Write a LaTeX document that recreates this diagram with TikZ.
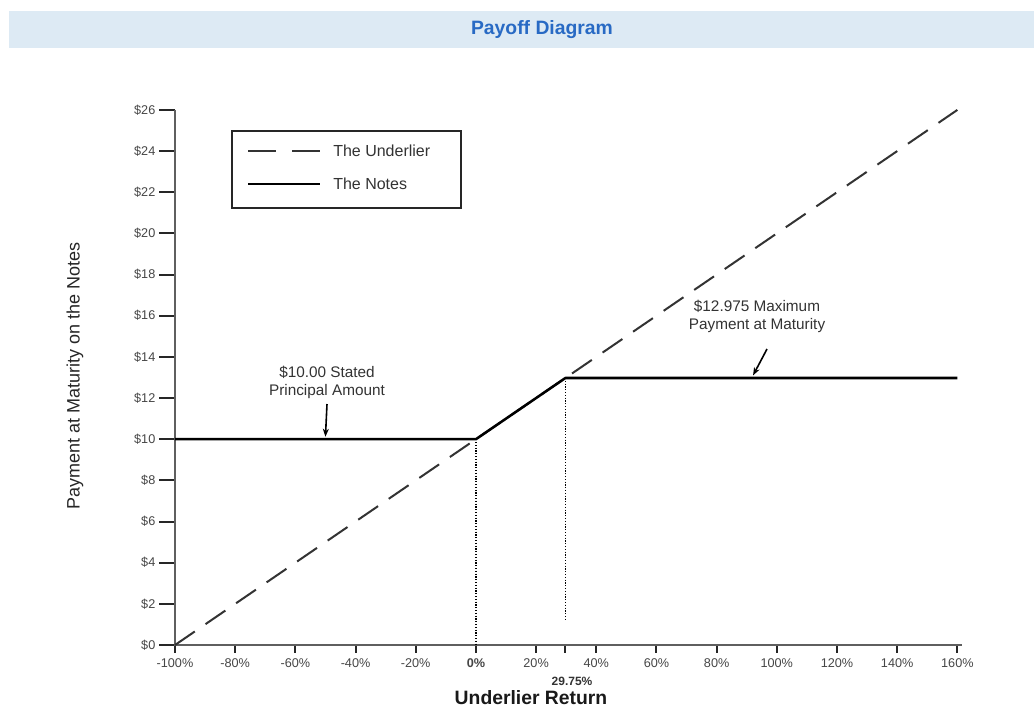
\documentclass[tikz,border=0pt]{standalone}
\usepackage{fontspec}
\setmainfont{Liberation Sans}
\usetikzlibrary{arrows.meta}
\definecolor{barbg}{RGB}{221,234,244}
\definecolor{titleblue}{RGB}{40,106,196}
\definecolor{axisgray}{RGB}{95,95,95}
\definecolor{ticktext}{RGB}{70,70,70}
\begin{document}
\begin{tikzpicture}[x=0.75pt,y=-0.75pt,
  ticklbl/.style={font=\fontsize{9.5}{11}\selectfont, text=ticktext, inner sep=0pt},
  axisline/.style={draw=axisgray, line width=2pt},
  tickline/.style={draw=black!85, line width=1.5pt},
  notes/.style={draw=black, line width=1.9pt, line join=round},
  underlier/.style={draw=black!80, line width=1.5pt, dash pattern=on 18pt off 9.75pt},
  dotline/.style={draw=black, line width=0.9pt, dash pattern=on 0.9pt off 1.2pt},
  annot/.style={font=\fontsize{11.5}{13.5}\selectfont, text=black!80, align=center, inner sep=0pt},
  arr/.style={draw=black, line width=1.2pt, -{Stealth[length=6pt,width=4.5pt]}},
  legtext/.style={font=\fontsize{12}{14}\selectfont, text=black!80, anchor=west, inner sep=0pt}]

\useasboundingbox (0,0) rectangle (1034,719);
\fill[white] (0,0) rectangle (1034,719);

% title bar
\node[fill=barbg, minimum width=768.75pt, minimum height=27.75pt, inner sep=0pt, anchor=north west] (bar) at (9,11) {};
\node[font=\fontsize{14.5}{16}\selectfont\bfseries, text=titleblue] (title) at (542,30) {Payoff Diagram};

% data coordinates
\begin{scope}[shift={(475.9,645)}, x=2.2568pt, y=15.435pt]
  \coordinate (O) at (-100,0);
  \coordinate (Ytop) at (-100,26);
  \coordinate (Xend) at (161.5,0);
  \coordinate (U2) at (160,26);
  \coordinate (N0) at (-100,10);
  \coordinate (N1) at (0,10);
  \coordinate (N2) at (29.75,12.975);
  \coordinate (N3) at (160,12.975);
  \coordinate (Z0) at (0,0);
  \coordinate (M0) at (29.75,1.2);
  \coordinate (A1) at (-50,10.12);
  \coordinate (A2) at (92.1,13.1);
  \coordinate (T2975) at (29.75,0);
  % y ticks
  \foreach \v in {0,2,...,26}
    \draw[tickline] (-100,\v) -- ++(-12pt,0pt) node[left=2pt, ticklbl] {\$\v};
  % x ticks
  \foreach \r in {-100,-80,...,160}{
    \ifnum\r=0 \def\lbl{\textbf{0\%}}\else\def\lbl{\r\%}\fi
    \draw[tickline] (\r,0) -- ++(0pt,-6pt) node[below=3.5pt, ticklbl] {\lbl};
  }
\end{scope}
\draw[tickline] (T2975) -- ++(0,8);

% axes
\draw[axisline] (Ytop) -- (O) -- (Xend);

% underlier and notes
\draw[underlier] (O) -- (U2);
\draw[dotline] (N1) -- (Z0);
\draw[dotline] (N2) -- (M0);
\draw[notes] (N0) -- (N1) -- (N2) -- (N3);

% axis labels
\node[font=\fontsize{9}{10}\selectfont\bfseries, text=black!80] (p2975) at (572,681) {29.75\%};
\node[font=\fontsize{14.5}{16}\selectfont\bfseries, text=black!90] (xlab) at (531,698) {Underlier Return};
\node[rotate=90, font=\fontsize{13.5}{15}\selectfont, text=black!85] (ylab) at (75,376) {Payment at Maturity on the Notes};

% legend
\node[draw=black!85, line width=1.5pt, minimum width=172pt, minimum height=57.5pt, anchor=north west, inner sep=0pt] (legend) at (230.7,130) {};
\coordinate (l1a) at (248,151);
\coordinate (l1b) at (320,151);
\coordinate (l2a) at (248,184);
\coordinate (l2b) at (320,184);
\draw[underlier, dash pattern=on 21pt off 12pt] (l1a) -- (l1b);
\draw[notes] (l2a) -- (l2b);
\node[legtext] (lt1) at (333,151) {The Underlier};
\node[legtext] (lt2) at (333,184) {The Notes};

% annotations
\node[annot] (prin) at (327,382) {\$10.00 Stated\\Principal Amount};
\node[annot] (maxp) at (757,316) {\$12.975 Maximum\\Payment at Maturity};
\coordinate (A1t) at (327,404);
\coordinate (A2t) at (767,349);
\draw[arr] (A1t) -- (A1);
\draw[arr] (A2t) -- (A2);
\end{tikzpicture}
\end{document}
